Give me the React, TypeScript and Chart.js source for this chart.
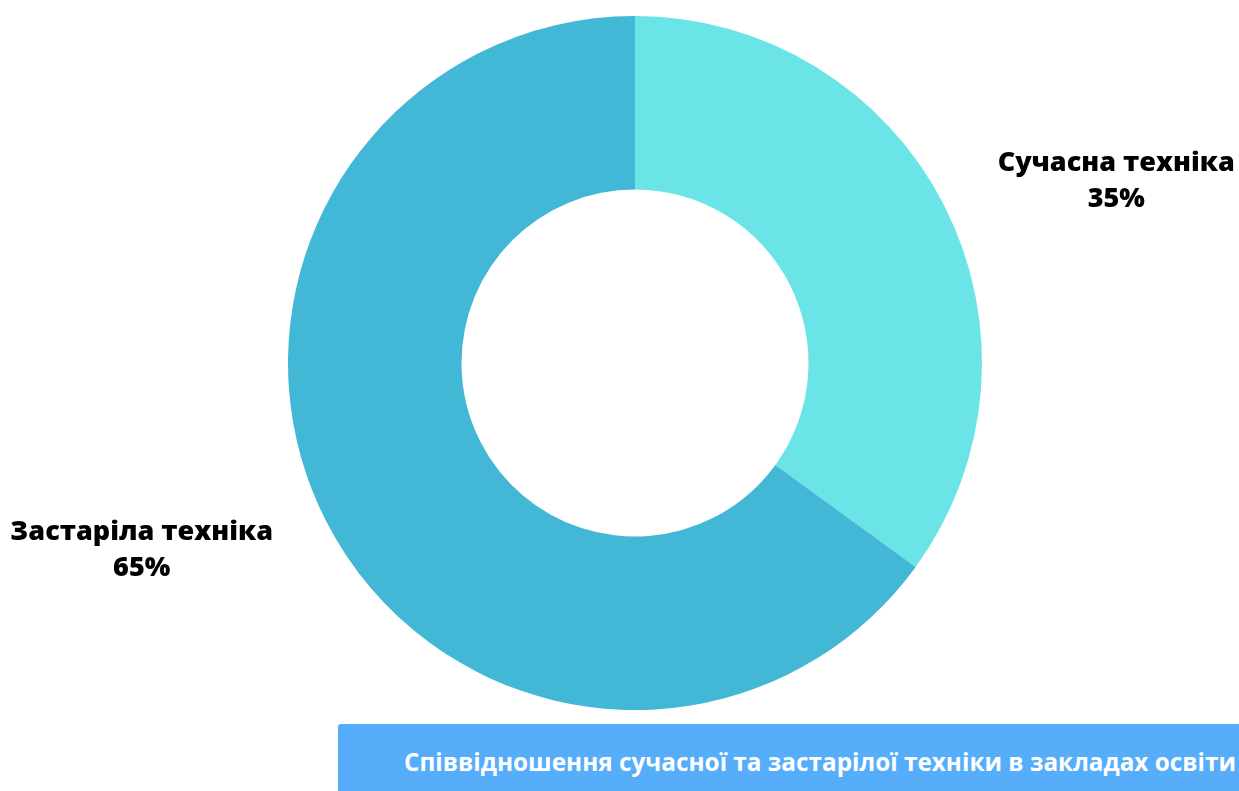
import React, { useEffect, useRef } from "react";
import { Chart, registerables } from "chart.js";

Chart.register(...registerables);

const categories = ["Сучасна техніка", "Застаріла техніка"];
const values = [35, 65];
const colors = ["#6BE4E8", "#43B7D6"];
const title = "Співвідношення сучасної та застарілої техніки в закладах освіти";

const labelPlugin = {
  id: "outerLabels",
  afterDraw(chart: any) {
    const ctx = chart.ctx;
    const meta = chart.getDatasetMeta(0);
    ctx.save();
    ctx.fillStyle = "#000";
    ctx.font = "800 27px 'Open Sans'";
    ctx.textAlign = "center";
    ctx.textBaseline = "middle";
    meta.data.forEach((arc: any, i: number) => {
      const { x, y, startAngle, endAngle, outerRadius } = arc.getProps(
        ["x", "y", "startAngle", "endAngle", "outerRadius"],
        true
      );
      const mid = (startAngle + endAngle) / 2;
      const lx = x + Math.cos(mid) * outerRadius * 1.576 - 6;
      const ly = y + Math.sin(mid) * outerRadius * 1.17 + 2;
      ctx.fillText(categories[i], lx, ly - 17);
      ctx.fillText(values[i] + "%", lx, ly + 19);
    });
    ctx.restore();
  },
};

export default function App() {
  const canvasRef = useRef<HTMLCanvasElement>(null);
  const titleRef = useRef<HTMLSpanElement>(null);

  useEffect(() => {
    if (!canvasRef.current) return;
    const chart = new Chart(canvasRef.current, {
      type: "doughnut",
      data: {
        labels: categories,
        datasets: [
          {
            data: values,
            backgroundColor: colors,
            borderWidth: 0,
          },
        ],
      },
      options: {
        animation: false,
        responsive: false,
        cutout: "50%",
        layout: { padding: { left: 288, right: 257, top: 16, bottom: 81 } },
        plugins: {
          legend: { display: false },
          tooltip: { enabled: false },
        },
      },
      plugins: [labelPlugin],
    });
    const t = titleRef.current;
    if (t) {
      const w = t.getBoundingClientRect().width;
      if (w > 0) t.style.transform = `scaleX(${832 / w})`;
    }
    return () => chart.destroy();
  }, []);

  return (
    <div
      style={{
        position: "absolute",
        left: 0,
        top: 0,
        width: 1239,
        height: 791,
        overflow: "hidden",
        background: "#fff",
      }}
    >
      <canvas
        ref={canvasRef}
        width={1239}
        height={791}
        style={{ position: "absolute", left: 0, top: 0, width: 1239, height: 791 }}
      />
      <div
        style={{
          position: "absolute",
          left: 338,
          top: 724,
          width: 940,
          height: 80,
          background: "#56AEFB",
          borderTopLeftRadius: 3,
        }}
      >
        <span
          ref={titleRef}
          style={{
            position: "absolute",
            left: 66,
            top: 20,
            whiteSpace: "nowrap",
            color: "#fff",
            fontFamily: "'Open Sans', sans-serif",
            fontWeight: 700,
            fontSize: 25,
            lineHeight: "34px",
            transformOrigin: "0 0",
            display: "inline-block",
          }}
        >
          {title}
        </span>
      </div>
    </div>
  );
}
